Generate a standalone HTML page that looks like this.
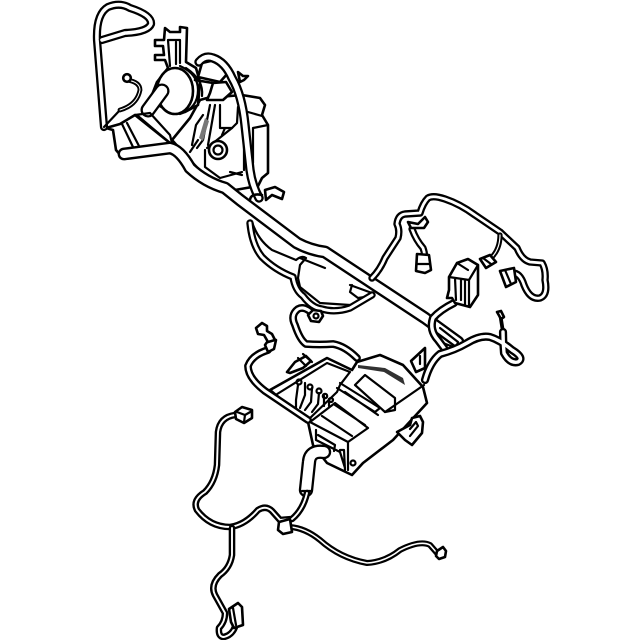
<!DOCTYPE html>
<html><head><meta charset="utf-8"><title>Wiring harness</title>
<style>html,body{margin:0;padding:0;background:#fff}svg{display:block}
.t{fill:none;stroke:#000;stroke-width:2.2;stroke-linejoin:round;stroke-linecap:round}
.f{fill:#fff;stroke:#000;stroke-width:2.6;stroke-linejoin:round;stroke-linecap:round}
.k{fill:none;stroke:#000;stroke-linejoin:round;stroke-linecap:round}
.w{fill:none;stroke:#fff;stroke-linejoin:round;stroke-linecap:round}
</style></head><body>
<svg width="640" height="640" viewBox="0 0 640 640" xmlns="http://www.w3.org/2000/svg">
<defs>
<filter id="s" x="0" y="0" width="100%" height="100%"><feGaussianBlur stdDeviation="0.3"/></filter>
<path id="a1" d="M104 127L97 40Q96 14 108 7Q120 2 130 8Q152 15 151 24Q148 32 125 33L102 40"/>
<path id="a2" d="M127 80Q140 82 140 90Q137 105 120 110"/>
<path id="el" d="M148 110L162 91"/>
<path id="tr" d="M124 154L170 148Q180 150 190 168Q205 182 225 188L240 200L297 243Q310 250 325 252L425 318L458 342"/>
<path id="a3" d="M199 62Q205 55 213 58Q225 62 232 78Q242 95 245 125L250 170Q252 185 259 198"/>
<path id="r1" d="M372 278Q380 270 385 258L398 238Q400 230 397 224Q398 215 405 214L420 213Q423 203 428 198Q433 195 445 199Q460 204 475 215L500 232L517 248Q522 260 530 262L542 263Q546 270 545 280Q548 295 540 298Q530 300 524 285Q520 272 511 273"/>
<path id="r2" d="M500 235Q500 250 490 259"/>
<path id="r3" d="M412 229Q416 240 423 248Q426 256 423 262"/>
<path id="r4" d="M454 303Q440 310 433 318Q429 330 438 340L444 348"/>
<path id="r5" d="M425 380Q430 362 440 354Q455 350 467 343Q480 335 490 337Q500 340 512 350Q525 358 518 362Q510 364 504 353Q503 342 503 332"/>
<path id="l1" d="M250 223Q252 245 262 257Q275 270 293 277Q295 290 303 296Q312 308 322 309Q335 313 350 308L372 295"/>
<path id="l2" d="M315 316Q305 305 298 309Q290 315 295 325Q300 340 306 344Q320 345 333 344Q345 346 357 358"/>
<path id="l3" d="M268 350Q252 355 248 366Q248 378 265 391L308 420"/>
<path id="b1" d="M307 493Q303 510 292 519L280 520L272 511Q266 505 258 510Q245 525 230 527Q210 527 197 510Q192 500 205 492Q215 482 217 465L218 432Q220 417 235 415"/>
<path id="b2" d="M290 527Q305 528 320 540Q340 558 367 563Q385 562 400 550Q420 540 430 545L437 553"/>
<path id="b3" d="M232 528L232 555Q230 568 220 575Q210 585 215 595L225 613Q225 622 219 628Q218 637 224 637Q232 635 235 627"/>
<path id="tube" d="M324 452Q310 450 309 462L306 490"/>
</defs>
<g filter="url(#s)">
<rect width="640" height="640" fill="#fff"/>
<!-- upper module -->
<path class="f" d="M207 98L242 95L260 98L265 105L262 115L268 125L268 173L262 178L258 186L235 190L205 176L190 160L172 140L190 118L200 100Z"/>
<path class="t" d="M220 105L220 128L232 128L237 123L238 107M244 118L244 170M253 128L253 163M253 128L268 125M248 112L262 116M225 128L222 135"/>
<path class="t" d="M210 105L203 140L197 148M215 105L208 145M203 115L196 125L192 145M198 140L190 152"/>
<path d="M205 118L199 138L203 141L209 121Z" fill="#777"/>
<path class="t" d="M205 150L205 167L220 178L242 172M207 148L232 128M230 172L242 175"/>
<circle class="f" cx="218" cy="150" r="9"/><circle class="t" cx="218" cy="150" r="4.5"/>
<path class="f" d="M165 28L170 32L180 32L180 27L187 28L186 62L196 68L200 82L198 105L185 112L170 112L150 100L157 82L168 68L165 60L155 60L155 55L164 55L163 46L155 46L155 40L164 40Z"/>
<path class="t" d="M168 40L180 40L180 63M168 40L170 66M176 42L176 64"/>
<ellipse class="f" cx="175" cy="91" rx="18" ry="23"/>
<path class="t" d="M180 66Q198 74 198 90Q198 108 180 114M186 68Q204 80 202 96"/>
<use href="#el" class="k" stroke-width="15"/><use href="#el" class="w" stroke-width="10.5"/>
<path class="f" d="M202 63L198 77L220 82L228 73L215 60Z"/>
<path class="f" d="M195 80L213 83L210 93L207 100L223 100L232 92L226 82L213 83"/>
<!-- bracket lower-left -->
<path class="f" d="M106 128L120 124L135 115L170 143L122 157L116 150L113 130Z"/>
<path class="t" d="M122 124L133 147M127 123L139 146M135 115L150 113L170 135L172 143M138 116L170 143"/>
<!-- upper cable loop -->
<use href="#a1" class="k" stroke-width="8.2"/><use href="#a1" class="w" stroke-width="3.6"/>
<path class="t" d="M104 127L120 110"/>
<use href="#a2" class="k" stroke-width="4.8"/><use href="#a2" class="w" stroke-width="1"/>
<circle class="f" cx="127" cy="78" r="3.8"/>
<use href="#a3" class="k" stroke-width="9.4"/><use href="#a3" class="w" stroke-width="4.8"/>
<path class="f" d="M238 72L243 76L248 76L244 80L240 82Z"/>
<path class="f" d="M265 190L275 187L284 192L282 199L272 195L266 200Z"/>
<path class="k" stroke-width="2.6" d="M250 205Q248 192 262 195"/>

<!-- loop + plate behind trunk -->
<path class="t" d="M252 222Q258 240 272 250L296 260Q302 255 306 258L300 265L298 278L300 287L320 303L350 305M300 258L325 268M352 285L350 292L358 298L372 296M350 285L372 293"/>
<use href="#l1" class="k" stroke-width="7.4"/><use href="#l1" class="w" stroke-width="3"/>
<!-- trunk -->
<use href="#tr" class="k" stroke-width="12.8"/><use href="#tr" class="w" stroke-width="8"/>
<path class="t" d="M430 322L444 345M440 328L458 342L456 348L443 343"/>

<!-- right wires -->
<use href="#r1" class="k" stroke-width="7.4"/><use href="#r1" class="w" stroke-width="2.8"/>
<use href="#r2" class="k" stroke-width="5.2"/><use href="#r2" class="w" stroke-width="1.2"/>
<use href="#r3" class="k" stroke-width="7.2"/><use href="#r3" class="w" stroke-width="2.8"/>
<path class="f" d="M408 222L418 224L425 217L428 222L424 228L411 228Z"/>
<path class="f" d="M417 254L429 255L431 270L425 273L416 271Z"/><path class="t" d="M417 264L429 264"/>
<path class="f" d="M480 259L490 255L496 262L486 268Z"/><path class="t" d="M483 258L491 264"/>
<path class="f" d="M500 271L514 268L516 282L506 287Z"/><path class="t" d="M505 270L511 284"/>
<use href="#r4" class="k" stroke-width="8.2"/><use href="#r4" class="w" stroke-width="3.4"/>
<!-- big connector -->
<path class="f" d="M449 277L457 263L468 259L478 265L478 295L470 307L455 303L452 298L447 298L449 290Z"/>
<path class="t" d="M449 277L469 280L478 265M457 263L468 270M461 280L461 300M465 280L465 304M469 280L469 306M455 278L456 300"/>
<path class="k" stroke-width="3.8" d="M500 313L503 332"/><path class="f" d="M497 312L501 311L504 317L501 319Z"/>

<!-- lower box -->
<path class="f" d="M270 390L327 358L352 370L357 362L380 355L403 365L423 387L427 403L393 440L363 463L352 475L327 463L313 445L308 422Z"/>
<path class="t" d="M274 396L327 363L350 372L340 385L337 392L308 420"/>
<path class="t" d="M337 388L375 412L380 408L340 383M345 392L378 415"/>
<path class="t" d="M355 385L365 375L395 398L395 410L385 412L355 385"/>
<path class="t" d="M385 412L424 385M310 422L348 442L348 470M310 422L335 403L368 428L348 442M322 416L352 436M335 405L365 425"/>
<path class="t" d="M316 430L316 440L340 452L345 468M318 435L335 445L334 451M340 450L344 450L345 470"/>
<circle class="t" cx="353" cy="463" r="2.5"/>
<path class="t" d="M298 385L296 400L296 408M305 383L305 395L300 408M312 388L311 402L305 410M319 393L318 404L312 412M324 396L324 406M329 399L329 406"/>
<circle class="t" cx="299" cy="382" r="2.5"/><circle class="t" cx="310" cy="387" r="2.5"/><circle class="t" cx="319" cy="391" r="2.5"/><circle class="t" cx="325" cy="396" r="2.2"/><circle class="t" cx="331" cy="400" r="2"/>
<path d="M358 365L385 368L403 378L405 385L384 372L358 368Z" fill="#333"/>
<path class="f" d="M411 361L425 348L425 368L416 372Z"/><path class="t" d="M420 356L420 364"/>
<path class="f" d="M287 372L295 362L306 356L311 361L303 368L290 373Z"/>
<path class="t" d="M303 354L312 362M298 358L306 366"/>
<path class="f" d="M397 432L410 425L412 418L420 416L423 422L422 433L412 445L405 440Z"/>
<path class="t" d="M410 429L416 422L418 426L410 436"/>
<use href="#r5" class="k" stroke-width="8.2"/><use href="#r5" class="w" stroke-width="3.4"/>
<use href="#l2" class="k" stroke-width="7.8"/><use href="#l2" class="w" stroke-width="3"/>
<path class="f" d="M308 315L313 310L321 311L323 316L319 322L311 321Z"/><circle class="t" cx="316" cy="316" r="2.5"/>
<use href="#l3" class="k" stroke-width="7.8"/><use href="#l3" class="w" stroke-width="3"/>
<path class="f" d="M265 345L270 338L276 340L274 349L268 352Z"/>
<path class="f" d="M256 328L262 323L267 326L267 331L272 334L275 340L268 342L264 335L258 334Z"/>

<!-- bottom wires -->
<use href="#tube" class="k" stroke-width="14.4"/><use href="#tube" class="w" stroke-width="9.8"/>
<path class="t" d="M302 491L311 491"/>
<use href="#b1" class="k" stroke-width="6.6"/><use href="#b1" class="w" stroke-width="1.9"/>
<use href="#b2" class="k" stroke-width="6"/><use href="#b2" class="w" stroke-width="1.6"/>
<use href="#b3" class="k" stroke-width="6.6"/><use href="#b3" class="w" stroke-width="1.9"/>
<path class="f" d="M235 412L242 407L252 410L252 418L244 423L236 419Z"/>
<path class="t" d="M237 412L245 415L252 411M245 415L244 422"/>
<path class="f" d="M279 522L290 519L292 532L283 534L278 530Z"/>
<path class="f" d="M437 551L443 547L446 551L445 557L439 559L436 556Z"/>
<path class="f" d="M229 609L238 603L242 607L243 625L234 628L231 622Z"/>
<path class="t" d="M233 608L236 625"/>
</g>
</svg>
</body></html>
